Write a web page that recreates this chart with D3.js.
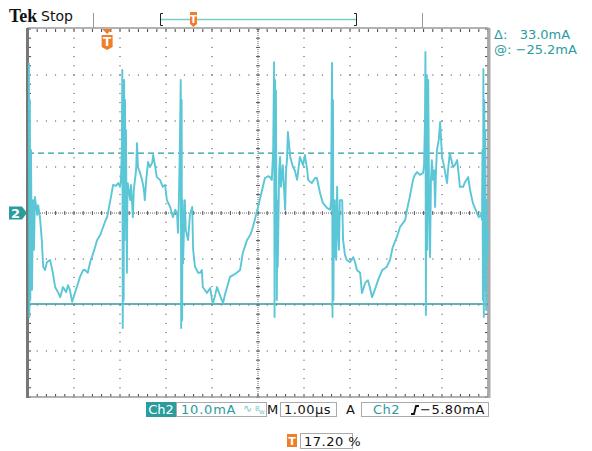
<!DOCTYPE html>
<html>
<head>
<meta charset="utf-8">
<script src="https://cdn.jsdelivr.net/npm/d3@7"></script>
<style>
  body { margin: 0; background: #fff; }
  svg { display: block; }
  text { font-family: "DejaVu Sans", sans-serif; }
</style>
</head>
<body>
<div id="scope"></div>
<script>
// captured trace, time in µs, current in mA (relative to ch2 marker)
var timeUs = [0.02,0.03,0.04,0.05,0.065,0.087,0.11,0.13,0.15,0.2,0.22,0.26,0.30,0.33,0.37,0.41,0.48,0.54,0.59,0.65,0.70,0.76,0.83,0.87,0.91,0.96,1.02,1.09,1.13,1.20,1.24,1.30,1.35,1.39,1.46,1.50,1.57,1.61,1.67,1.72,1.78,1.85,1.91,1.96,2.00,2.02,
  2.04,2.05,2.06,2.07,2.08,2.09,2.10,2.11,2.12,2.13,2.15,2.16,2.17,2.22,2.24,2.28,2.30,2.35,2.37,2.39,2.43,2.48,2.52,2.54,2.57,2.61,2.65,2.70,2.72,2.76,2.80,2.87,2.93,2.98,3.02,3.09,3.15,3.20,3.24,3.26,3.28,
  3.30,3.32,3.33,3.34,3.35,3.36,3.37,3.41,3.43,3.48,3.52,3.57,3.59,3.63,3.70,3.74,3.78,3.80,3.89,3.96,4.00,4.02,4.07,4.11,4.17,4.24,4.28,4.33,4.39,4.46,4.54,4.61,4.67,4.76,4.83,4.87,4.93,5.00,5.09,5.15,5.22,5.26,5.30,
  5.33,5.35,5.36,5.37,5.38,5.39,5.41,5.42,5.43,5.46,5.48,5.50,5.54,5.59,5.61,5.63,5.65,5.70,5.76,5.80,5.85,5.91,5.98,6.02,6.07,6.09,6.17,6.24,6.28,6.35,6.41,6.50,6.57,6.59,
  6.60,6.61,6.62,6.63,6.64,6.65,6.66,6.67,6.70,6.72,6.74,6.76,6.78,6.83,6.85,6.89,6.93,7.00,7.07,7.11,7.15,7.22,7.26,7.33,7.39,7.43,7.48,7.54,7.61,7.70,7.76,7.80,7.87,7.93,8.02,8.09,8.15,8.20,8.24,8.30,8.37,8.41,8.46,8.52,8.59,8.61,
  8.63,8.64,8.65,8.66,8.67,8.68,8.70,8.72,8.74,8.76,8.78,8.80,8.83,8.85,8.87,8.89,8.93,8.96,8.98,9.00,9.04,9.11,9.13,9.17,9.24,9.28,9.33,9.39,9.46,9.50,9.57,9.61,9.67,9.76,9.80,9.85,9.87,
  9.88,9.89,9.90,9.91,9.92,9.93,9.94,9.96,9.97,9.98,10.0];
var currentMa = [32.6,-22.6,24.6,-18.9,13.7,-16.7,2.8,-8,3.5,-0.4,1.7,-0.9,-5.9,-11.7,-12.4,-10.7,-10.2,-13.0,-16.1,-17.2,-18.3,-16.1,-17.2,-15.7,-16.7,-19.3,-17.4,-15.2,-13.9,-12.4,-12.4,-13.0,-10.7,-9.6,-7.4,-5.9,-4.8,-3.7,-2.0,-0.9,2.2,6.1,5.9,6.5,5.7,7.2,
  13.7,31.1,-25.0,20.2,-18.9,28.9,-5.9,24.6,-1.5,18.0,-13.0,2.8,6.5,2.8,6.1,-0.9,5.0,9.3,15.2,10.0,8.9,7.2,5.0,2.8,7.2,11.1,10.0,10.9,12.6,10.4,7.8,7.2,5.7,6.1,2.8,1.3,-0.9,0.7,0,-4.3,2.8,
  13.7,28.9,-25.0,24.6,-23.3,2.8,-10.9,2.8,-3.7,-5.9,-0.4,1.3,-8.0,-11.7,-13.0,-13.0,-12.4,-16.1,-17.4,-16.3,-18.9,-19.6,-17.8,-16.1,-17.8,-19.6,-17.8,-16.1,-13.9,-13.5,-13.0,-12.4,-8.7,-5.9,-4.8,-3.7,-1.5,1.3,5.0,7.6,8.0,7.8,7.2,
  13.7,32.8,-22.6,28.9,-8.0,26.7,-18.9,2.8,-11.7,9.3,12.2,5.7,10.4,0.7,9.3,11.5,17.6,12.2,10.0,9.3,7.2,12.2,10.4,12.6,9.3,7.2,6.5,7.6,7.6,4.3,2.2,1.1,0.7,2.8,
  20.2,32.6,-22.6,24.6,-18.9,2.8,-9.6,2.8,-10.2,5.7,-3.7,-8.0,2.8,2.8,-5.9,-9.1,-10.2,-10.7,-9.6,-10.7,-12.4,-13.0,-17.4,-15.2,-14.6,-16.1,-18.3,-16.7,-14.6,-12.4,-12.0,-11.7,-10.2,-7.4,-5.2,-3.0,-2.2,-1.5,0.7,3.5,7.2,8.3,8.9,8.3,8.7,10.4,
  20.2,35.0,-22.2,24.6,30.0,-8.0,28.9,2.8,-9.6,7.2,11.5,7.2,9.3,1.3,9.3,13.7,15.9,19.8,15.9,12.2,10.4,6.5,9.3,13.0,10.0,10.4,11.5,5.7,5.7,6.7,7.8,5.0,2.2,0,-0.9,-0.4,-1.5,
  13.7,-18.9,31.3,-22.6,24.6,-16.7,18.0,-21.1,2.8,-10.2,-3.7];

// cursors (mA, same reference as trace)
var cursorA = 13.0, cursorB = -19.8;
var readouts = ["\u0394:   33.0mA", "@: \u221225.2mA"];
var chScale = "10.0mA", timeBase = "1.00\u00b5s", trigLevel = "\u22125.80mA", trigPos = "17.20 %";
var trigTime = 1.72; // trigger point in µs

var W = 592, H = 451;
var pL = 28, pR = 488, pT = 29, pB = 397;

var svg = d3.select("#scope").append("svg").attr("width", W).attr("height", H);

var x = d3.scaleLinear().domain([0, 10]).range([pL, pR]);
var y = d3.scaleLinear().domain([-40, 40]).range([pB, pT]);

var teal = "#2a9c9c", trace = "#5bc7d6", orange = "#f07d2a";

// graticule dots
var g = svg.append("g");
var minorT = d3.range(0, 10.001, 0.2), minorI = d3.range(-40, 40.001, 2);
[1,2,3,4,6,7,8,9].forEach(function(t) {
  g.selectAll(null).data(minorI).enter().append("rect")
    .attr("x", x(t) - 0.5).attr("y", function(d) { return y(d) - 0.5; })
    .attr("width", 1).attr("height", 1).attr("fill", "#333");
});
[-30,-20,-10,10,20,30].forEach(function(v) {
  g.selectAll(null).data(minorT).enter().append("rect")
    .attr("x", function(d) { return x(d) - 0.5; }).attr("y", y(v) - 0.5)
    .attr("width", 1).attr("height", 1).attr("fill", "#333");
});
// centre cross
g.append("line").attr("x1", pL).attr("x2", pR).attr("y1", y(0)).attr("y2", y(0))
  .attr("stroke", "#666").attr("stroke-dasharray", "1,1");
g.append("line").attr("x1", x(5)).attr("x2", x(5)).attr("y1", pT).attr("y2", pB)
  .attr("stroke", "#666").attr("stroke-dasharray", "1,1");
g.selectAll(null).data(minorT).enter().append("line")
  .attr("x1", function(d) { return x(d); }).attr("x2", function(d) { return x(d); })
  .attr("y1", y(0) - 2).attr("y2", y(0) + 2).attr("stroke", "#555");
g.selectAll(null).data(minorI).enter().append("line")
  .attr("x1", x(5) - 2).attr("x2", x(5) + 2)
  .attr("y1", function(d) { return y(d); }).attr("y2", function(d) { return y(d); }).attr("stroke", "#555");
// edge ticks
g.selectAll(null).data(minorT).enter().append("line")
  .attr("x1", function(d) { return x(d); }).attr("x2", function(d) { return x(d); })
  .attr("y1", pT).attr("y2", pT + 3).attr("stroke", "#444");
g.selectAll(null).data(minorT).enter().append("line")
  .attr("x1", function(d) { return x(d); }).attr("x2", function(d) { return x(d); })
  .attr("y1", pB - 3).attr("y2", pB).attr("stroke", "#444");
g.selectAll(null).data(minorI).enter().append("line")
  .attr("x1", pL).attr("x2", pL + 3)
  .attr("y1", function(d) { return y(d); }).attr("y2", function(d) { return y(d); }).attr("stroke", "#444");
g.selectAll(null).data(minorI).enter().append("line")
  .attr("x1", pR - 3).attr("x2", pR)
  .attr("y1", function(d) { return y(d); }).attr("y2", function(d) { return y(d); }).attr("stroke", "#444");

// frame
svg.append("rect").attr("x", pL).attr("y", pT - 1).attr("width", pR - pL).attr("height", pB - pT + 1)
  .attr("fill", "none").attr("stroke", "#999").attr("stroke-width", 1.5);
svg.append("rect").attr("x", pL - 2).attr("y", pT - 1).attr("width", 3).attr("height", pB - pT + 2).attr("fill", "#777");
svg.append("rect").attr("x", pR - 0.5).attr("y", pT - 1).attr("width", 3).attr("height", pB - pT + 2).attr("fill", "#aaa");

// cursors
svg.append("line").attr("x1", pL).attr("x2", pR).attr("y1", y(cursorA)).attr("y2", y(cursorA))
  .attr("stroke", teal).attr("stroke-width", 1.2).attr("stroke-dasharray", "6,4");
svg.append("line").attr("x1", pL).attr("x2", pR).attr("y1", y(cursorB)).attr("y2", y(cursorB))
  .attr("stroke", teal).attr("stroke-width", 1.5);

// trace
var line = d3.line().x(function(d) { return x(d[0]); }).y(function(d) { return y(d[1]); });
svg.append("path").datum(d3.zip(timeUs, currentMa)).attr("d", line)
  .attr("fill", "none").attr("stroke", trace).attr("stroke-width", 1.9).attr("stroke-linejoin", "round");

// header
svg.append("text").attr("x", 9).attr("y", 22).text("Tek")
  .style("font-family", "'Liberation Serif', serif").style("font-weight", "bold").style("font-size", "18px").attr("fill", "#111");
svg.append("text").attr("x", 41).attr("y", 21).text("Stop").style("font-size", "14px").attr("fill", "#111");
svg.append("line").attr("x1", 93.5).attr("x2", 93.5).attr("y1", 13).attr("y2", 28).attr("stroke", "#999");
svg.append("line").attr("x1", 422.5).attr("x2", 422.5).attr("y1", 13).attr("y2", 28).attr("stroke", "#999");
// record bar
svg.append("line").attr("x1", 161).attr("x2", 356).attr("y1", 19.5).attr("y2", 19.5).attr("stroke", "#7cc9c9").attr("stroke-width", 1.5);
svg.append("path").attr("d", "M163,13.5 H160.5 V25.5 H163").attr("fill", "none").attr("stroke", "#222");
svg.append("path").attr("d", "M354,13.5 H356.5 V25.5 H354").attr("fill", "none").attr("stroke", "#222");
function tMarker(cx, cy, w, h) {
  var m = svg.append("g");
  m.append("path").attr("d", "M" + (cx - w/2) + "," + cy + " h" + w + " v" + (h - 3) + " l-" + (w/2) + ",3 l-" + (w/2) + ",-3 z").attr("fill", orange);
  m.append("text").attr("x", cx).attr("y", cy + h - 4).attr("text-anchor", "middle").text("T")
    .style("font-size", (h - 3) + "px").style("font-weight", "bold").attr("fill", "#fff");
}
svg.append("rect").attr("x", 190).attr("y", 12).attr("width", 7).attr("height", 2).attr("fill", orange);
tMarker(193.5, 14, 7, 13);
// trigger position below top edge
svg.append("path").attr("d", "M" + (x(trigTime) - 5) + ",29 h10 l-5,5 z").attr("fill", orange);
tMarker(x(trigTime), 35, 11, 15);

// ch2 ground marker
svg.append("path").attr("d", "M9," + (y(0) - 6.5) + " h13 l5,6.5 l-5,6.5 h-13 z").attr("fill", teal);
svg.append("text").attr("x", 15.5).attr("y", y(0) + 5).attr("text-anchor", "middle").text("2")
  .style("font-size", "13px").style("font-weight", "bold").attr("fill", "#fff");

// readouts
svg.selectAll(null).data(readouts).enter().append("text")
  .attr("x", 494).attr("y", function(d, i) { return 39 + i * 15; })
  .text(function(d) { return d; }).style("font-size", "13px").attr("fill", teal)
  .style("white-space", "pre");

// bottom status
var by = 402, bh = 15;
svg.append("rect").attr("x", 146).attr("y", by).attr("width", 30).attr("height", bh).attr("fill", teal);
svg.append("text").attr("x", 161).attr("y", by + 12).attr("text-anchor", "middle").text("Ch2")
  .style("font-size", "13px").attr("fill", "#fff");
svg.append("rect").attr("x", 176.5).attr("y", by + 0.5).attr("width", 90).attr("height", bh - 1).attr("fill", "none").attr("stroke", "#aaa");
svg.append("text").attr("x", 181).attr("y", by + 12).text(chScale).style("font-size", "13px").style("letter-spacing", "0.8px").attr("fill", teal);
svg.append("text").attr("x", 243).attr("y", by + 10).text("\u223f").style("font-size", "11px").attr("fill", "#7cc9c9");
svg.append("text").attr("x", 255).attr("y", by + 9).text("B").style("font-size", "7px").attr("fill", "#7cc9c9");
svg.append("text").attr("x", 259).attr("y", by + 12).text("w").style("font-size", "7px").attr("fill", "#7cc9c9");
svg.append("text").attr("x", 267).attr("y", by + 12).text("M").style("font-size", "13px").attr("fill", "#111");
svg.append("rect").attr("x", 280.5).attr("y", by + 0.5).attr("width", 56).attr("height", bh - 1).attr("fill", "none").attr("stroke", "#aaa");
svg.append("text").attr("x", 284).attr("y", by + 12).text(timeBase).style("font-size", "13px").style("letter-spacing", "0.5px").attr("fill", "#111");
svg.append("text").attr("x", 346).attr("y", by + 12).text("A").style("font-size", "13px").attr("fill", "#111");
svg.append("rect").attr("x", 361.5).attr("y", by + 0.5).attr("width", 127).attr("height", bh - 1).attr("fill", "none").attr("stroke", "#aaa");
svg.append("text").attr("x", 373).attr("y", by + 12).text("Ch2").style("font-size", "13px").style("letter-spacing", "0.5px").attr("fill", teal);
svg.append("path").attr("d", "M411," + (by + 12) + " h3 l2,-8 h3").attr("fill", "none").attr("stroke", "#111").attr("stroke-width", 1.8);
svg.append("text").attr("x", 420).attr("y", by + 12).text(trigLevel).style("font-size", "13px").style("letter-spacing", "0.5px").attr("fill", "#111");

// trigger position readout
svg.append("rect").attr("x", 287).attr("y", 434).attr("width", 10).attr("height", 13).attr("fill", orange);
svg.append("text").attr("x", 292).attr("y", 445).attr("text-anchor", "middle").text("T")
  .style("font-size", "11px").style("font-weight", "bold").attr("fill", "#fff");
svg.append("rect").attr("x", 300.5).attr("y", 433.5).attr("width", 52).attr("height", 15).attr("fill", "none").attr("stroke", "#aaa");
svg.append("text").attr("x", 304).attr("y", 446).text(trigPos).style("font-size", "13px").style("letter-spacing", "0.5px").attr("fill", "#111");
</script>
</body>
</html>
